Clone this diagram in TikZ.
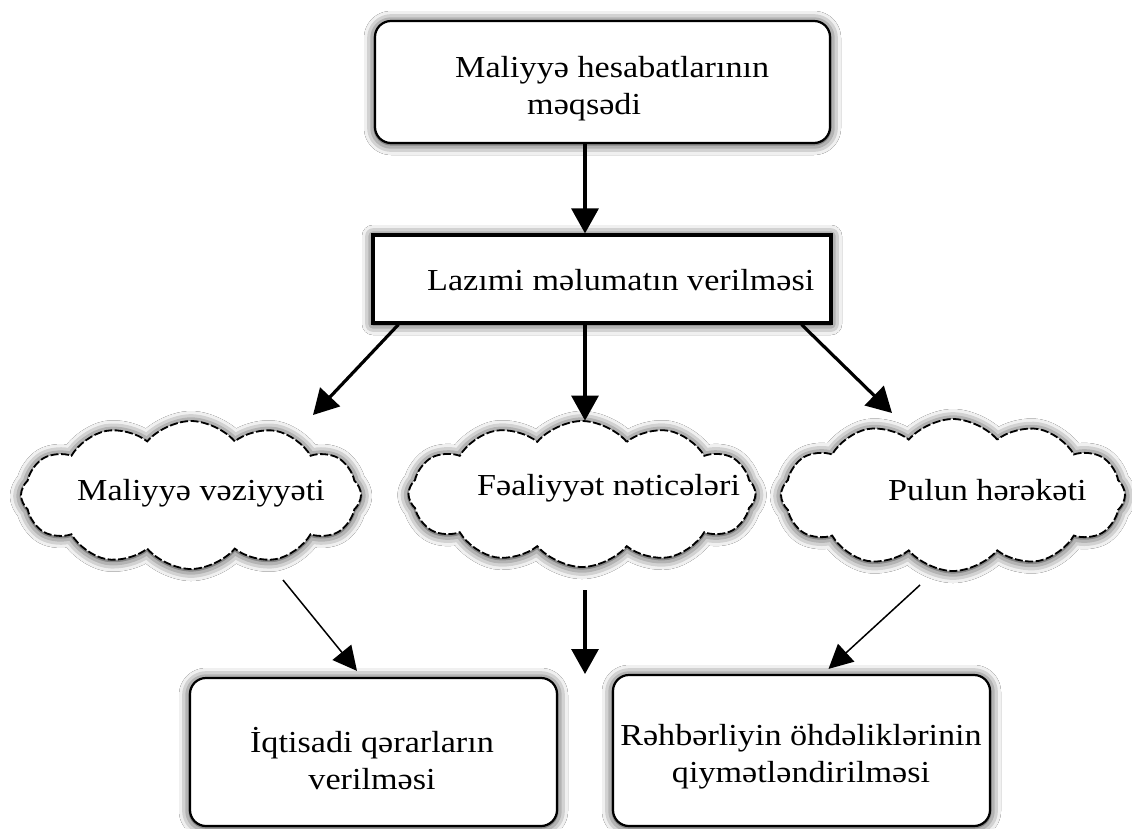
\documentclass[tikz,border=0pt]{standalone}
\usepackage{fontspec}
\setmainfont{Liberation Serif}[FakeStretch=1.12]
\usetikzlibrary{shapes.symbols,arrows.meta,shadows.blur,calc}
\begin{document}
\begin{tikzpicture}[x=1pt,y=-1pt,
  txt/.style={inner sep=0pt, font=\fontsize{30.5}{37}\selectfont},
  softshadow/.style={blur shadow={shadow xshift=0pt, shadow yshift=-1pt, shadow blur radius=11pt, shadow opacity=95}},
  rbox/.style={draw, line width=2.2pt, rounded corners=16pt, fill=white, softshadow, inner sep=0pt},
  sbox/.style={draw, line width=3.2pt, fill=white, softshadow, inner sep=0pt},
  cloudbox/.style={cloud, cloud puffs=12, cloud puff arc=100, cloud ignores aspect, draw, fill=white,
     line width=1.8pt, dash pattern=on 8pt off 2.5pt, softshadow, inner sep=0pt},
  thickarrow/.style={line width=3.2pt, -{Triangle[length=25pt,width=27pt]}},
  thinarrow/.style={line width=1.5pt, -{Triangle[length=24pt,width=24pt]}}
]
\useasboundingbox[fill=white] (0,0) rectangle (1132,828);

% boxes
\node[rbox, minimum width=455pt, minimum height=122pt] (top) at (602.5,82) {};
\node[sbox, minimum width=458pt, minimum height=88pt] (mid) at (602,279) {};
\node[cloudbox, minimum width=340pt, minimum height=148pt] (lc) at (191,495) {};
\node[cloudbox, minimum width=347pt, minimum height=146pt] (mc) at (582,494) {};
\node[cloudbox, minimum width=344pt, minimum height=152pt] (rc) at (953,495) {};
\node[rbox, minimum width=367pt, minimum height=148pt] (bl) at (373.5,752) {};
\node[rbox, minimum width=377pt, minimum height=151pt] (br) at (801.5,750.5) {};

% texts
\node[txt, align=left, anchor=north west] (t1) at (455,56) {Maliyyə hesabatlarının\\\hspace*{72pt}məqsədi};
\node[txt, anchor=base west] (t2) at (427,290) {Lazımi məlumatın verilməsi};
\node[txt, anchor=base west] (t3) at (77,500) {Maliyyə vəziyyəti};
\node[txt, anchor=base west] (t4) at (477,495) {Fəaliyyət nəticələri};
\node[txt, anchor=base west] (t5) at (888,500) {Pulun hərəkəti};
\node[txt, align=center, anchor=north] (t6) at (372,727) {İqtisadi qərarların\\verilməsi};
\node[txt, align=center, anchor=north] (t7) at (801,724) {Rəhbərliyin öhdəliklərinin\\qiymətləndirilməsi};

\coordinate (gap) at (585,674);

% connectors
\draw[thickarrow] ([xshift=-17.5pt]top.south) -- ([xshift=-17.5pt]top.south |- mid.north);
\draw[thickarrow] ([xshift=27pt]mid.south west) -- ($(lc.center)+(122,-80)$);
\draw[thickarrow] ([xshift=-17pt]mid.south) -- ($(mid.south)+(-17,96)$);
\draw[thickarrow] ([xshift=-31pt]mid.south east) -- ($(rc.center)+(-61,-82)$);
\draw[thinarrow] ($(lc.center)+(92,85)$) -- ($(bl.north)+(-16.5,-6)$);
\draw[thickarrow] ($(mc.center)+(3,96)$) -- (gap);
\draw[thinarrow] ($(rc.center)+(-33,90)$) -- ($(br.north)+(27,-5)$);
\end{tikzpicture}
\end{document}
